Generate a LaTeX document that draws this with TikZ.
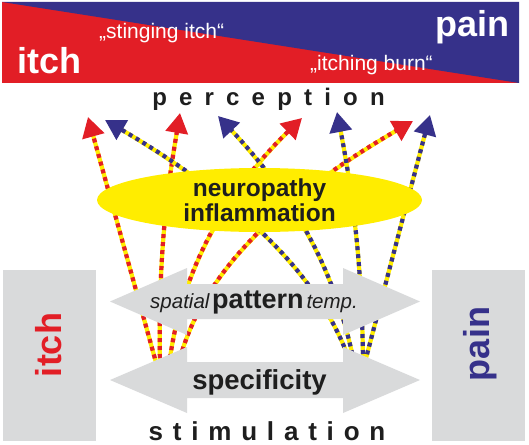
\documentclass[tikz,border=0pt]{standalone}
\usepackage{fontspec}
\setmainfont{Liberation Sans}
\usetikzlibrary{arrows.meta,shapes.geometric}
\definecolor{itchred}{RGB}{226,30,38}
\definecolor{painblue}{RGB}{54,49,138}
\definecolor{boxgray}{RGB}{217,218,219}
\definecolor{ellyellow}{RGB}{255,237,0}
\definecolor{inkdark}{RGB}{30,30,30}
\newcommand\fsz[1]{\fontsize{#1}{#1}\selectfont}
\begin{document}
\begin{tikzpicture}[x=1pt,y=-1pt,
  fibrebase/.style={draw=ellyellow, line width=4.2pt, line cap=butt, shorten >=12pt},
  itchfibre/.style={draw=itchred, line width=4.2pt, dash pattern=on 4pt off 4pt, -{Triangle[length=20pt,width=22pt]}},
  painfibre/.style={draw=painblue, line width=4.2pt, dash pattern=on 4pt off 4pt, -{Triangle[length=20pt,width=22pt]}},
  grayarrow/.style={fill=boxgray},
  sidebox/.style={fill=boxgray, draw=none, minimum width=93pt, minimum height=171pt, inner sep=0pt},
  bannertxt/.style={text=white, inner sep=0pt},
  spaced/.style={text=inkdark, font=\bfseries, inner sep=0pt}
]
\useasboundingbox (0,0) rectangle (529,444);
% banner
\fill[itchred] (2,2) rectangle (519,83);
\fill[painblue] (2,2) -- (519,2) -- (519,83) -- cycle;
\node[bannertxt, anchor=base west, font=\bfseries\fsz{36}] (bitch) at (17,73) {itch};
\node[bannertxt, anchor=base east, font=\bfseries\fsz{36}] (bpain) at (510,37) {pain};
\node[bannertxt, anchor=base west, font=\fsz{21}] (sting) at (99,39) {„stinging itch“};
\node[bannertxt, anchor=base west, font=\fsz{21}] (burn) at (310,70) {„itching burn“};
% perception / stimulation
\node[spaced, anchor=base, font=\bfseries\fsz{24}] (perc) at (268.5,105)
  {p\kern12.2pt e\kern12.2pt r\kern12.2pt c\kern12.2pt e\kern12.2pt p\kern12.2pt t\kern12.2pt i\kern12.2pt o\kern12.2pt n};
\node[spaced, anchor=base, font=\bfseries\fsz{26}] (stim) at (267,440)
  {s\kern9.8pt t\kern9.8pt i\kern9.8pt m\kern9.8pt u\kern9.8pt l\kern9.8pt a\kern9.8pt t\kern9.8pt i\kern9.8pt o\kern9.8pt n};
% fibre coordinates
\coordinate (r1o) at (157,366); \coordinate (r1t) at (88,117);
\coordinate (r2o) at (160,366); \coordinate (r2t) at (180,113);
\coordinate (r3o) at (169,366); \coordinate (r3t) at (302,118);
\coordinate (r4o) at (178,366); \coordinate (r4t) at (413,121);
\coordinate (b1o) at (350,362); \coordinate (b1t) at (105,120);
\coordinate (b2o) at (354,362); \coordinate (b2t) at (218,116);
\coordinate (b3o) at (363,362); \coordinate (b3t) at (337,112);
\coordinate (b4o) at (365,362); \coordinate (b4t) at (430,115);
% itch fibres
\draw[fibrebase] (r1o) -- (r1t);
\draw[itchfibre] (r1o) -- (r1t);
\draw[fibrebase] (r2o) .. controls (158,250) and (168,185) .. (r2t);
\draw[itchfibre] (r2o) .. controls (158,250) and (168,185) .. (r2t);
\draw[fibrebase] (r3o) .. controls (178,290) and (212,205) .. (r3t);
\draw[itchfibre] (r3o) .. controls (178,290) and (212,205) .. (r3t);
\draw[fibrebase] (r4o) .. controls (195,295) and (250,215) .. (r4t);
\draw[itchfibre] (r4o) .. controls (195,295) and (250,215) .. (r4t);
% pain fibres
\draw[fibrebase] (b1o) .. controls (325,290) and (262,212) .. (b1t);
\draw[painfibre] (b1o) .. controls (325,290) and (262,212) .. (b1t);
\draw[fibrebase] (b2o) .. controls (337,280) and (302,205) .. (b2t);
\draw[painfibre] (b2o) .. controls (337,280) and (302,205) .. (b2t);
\draw[fibrebase] (b3o) .. controls (362,260) and (352,190) .. (b3t);
\draw[painfibre] (b3o) .. controls (362,260) and (352,190) .. (b3t);
\draw[fibrebase] (b4o) -- (b4t);
\draw[painfibre] (b4o) -- (b4t);
% ellipse
\node[ellipse, fill=ellyellow, minimum width=325pt, minimum height=64pt, inner sep=0pt,
      align=center, text=inkdark, font=\bfseries\fontsize{24.5}{25}\selectfont] (neuro) at (259.5,200)
  {neuropathy\\inflammation};
% gray double arrows
\fill[grayarrow] (110,301.5) -- (187,268) -- (187,284) -- (343,284) -- (343,268) -- (420,301.5)
  -- (343,335) -- (343,319) -- (187,319) -- (187,335) -- cycle;
\fill[grayarrow] (110,380) -- (187,347) -- (187,362) -- (343,362) -- (343,347) -- (420,380)
  -- (343,413) -- (343,398) -- (187,398) -- (187,413) -- cycle;
\node[anchor=base, inner sep=0pt, text=inkdark] (patt) at (254,308)
  {{\itshape\fsz{20.5}spatial} {\bfseries\fsz{27}pattern} {\itshape\fsz{20.5}temp.}};
\node[anchor=base, inner sep=0pt, text=inkdark, font=\bfseries\fsz{27.5}] (spec) at (259.5,389) {specificity};
% side boxes
\node[sidebox, anchor=north west] (litch) at (3,270) {};
\node[sidebox, anchor=north west] (rpain) at (432,270) {};
\node[rotate=90, text=itchred, font=\bfseries\fsz{36}, inner sep=0pt] (itchlab) at (49,345) {itch};
\node[rotate=90, text=painblue, font=\bfseries\fsz{36}, inner sep=0pt] (painlab) at (480,344) {pain};
\end{tikzpicture}
\end{document}
